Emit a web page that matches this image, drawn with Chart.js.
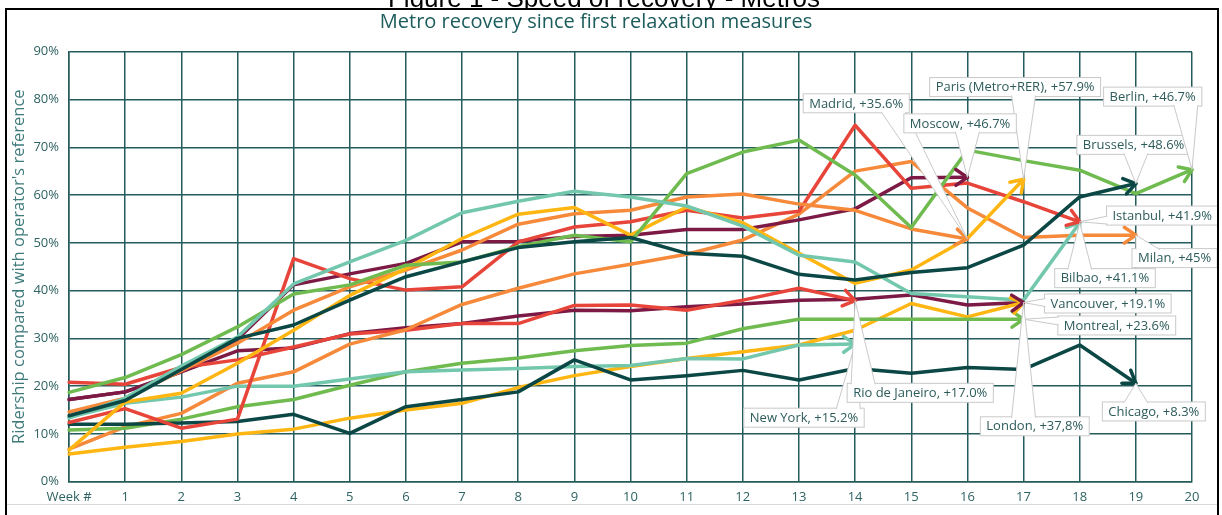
<!DOCTYPE html>
<html>
<head>
<meta charset="utf-8">
<script src="https://cdn.jsdelivr.net/npm/chart.js@4.4.1/dist/chart.umd.min.js"></script>
<style>
  html, body { margin: 0; padding: 0; background: #fff; }
  #wrap { position: relative; width: 1222px; height: 515px; }
</style>
</head>
<body>
<div id="wrap"><canvas id="chartMetro" width="1222" height="515"></canvas></div>
<script>
// week labels (x axis)
var weeks = ["Week #", "1", "2", "3", "4", "5", "6", "7", "8", "9", "10",
             "11", "12", "13", "14", "15", "16", "17", "18", "19", "20"];

// ridership vs operator's reference, % (index = week)
var brussels  = [13.8, 17.0, 23.5, 30.0, 32.8, 38.0, 42.9, 46.0, 49.0, 50.2, 51.1, 47.8, 47.2, 43.4, 42.2, 43.8, 44.8, 49.5, 59.6, 62.4];
var bilbao    = [13.3, 17.5, 24.2, 30.3, 41.4, 46.0, 50.5, 56.3, 58.7, 60.8, 59.6, 57.7, 53.5, 47.4, 46.0, 39.4, 38.7, 38.0, 54.2];
var berlin    = [18.7, 21.8, 26.6, 32.4, 39.3, 41.2, 45.3, 46.0, 49.2, 51.6, 50.2, 64.5, 69.0, 71.5, 64.2, 53.2, 69.4, 67.2, 65.2, 60.3, 65.3];
var paris     = [6.6, 16.7, 18.5, 24.8, 31.7, 39.0, 44.6, 50.9, 56.0, 57.4, 51.6, 57.5, 54.2, 47.8, 41.5, 44.3, 50.9, 63.3];
var madrid    = [14.6, 17.5, 23.2, 29.0, 35.9, 40.8, 44.3, 48.5, 53.9, 56.1, 56.8, 59.6, 60.2, 58.1, 56.8, 52.9, 50.8];
var istanbul  = [12.4, 15.3, 11.2, 13.1, 46.7, 42.5, 40.1, 40.8, 50.2, 53.3, 54.4, 56.8, 55.2, 56.6, 74.6, 61.4, 62.5, 58.6, 54.4];
var moscow    = [17.2, 18.8, 23.0, 29.8, 41.2, 43.5, 45.7, 50.2, 50.3, 51.3, 51.6, 52.8, 52.8, 54.8, 57.1, 63.6, 63.7];
var chicago   = [12.0, 12.0, 12.3, 12.6, 14.1, 10.1, 15.7, 17.2, 18.8, 25.5, 21.3, 22.2, 23.3, 21.3, 23.7, 22.7, 23.9, 23.5, 28.6, 20.6];
var newYork   = [13.5, 16.4, 17.7, 20.0, 20.0, 21.5, 23.0, 23.4, 23.7, 24.1, 24.3, 25.8, 25.7, 28.6, 28.8];
var montreal  = [10.8, 11.2, 13.1, 15.7, 17.2, 20.2, 23.0, 24.8, 25.9, 27.4, 28.5, 29.0, 32.0, 34.0, 34.0, 34.0, 34.0, 34.0];
var london    = [5.8, 7.2, 8.4, 10.0, 11.0, 13.3, 15.0, 16.4, 19.7, 22.2, 24.1, 25.8, 27.2, 28.6, 31.7, 37.3, 34.5, 37.5];
var milan     = [6.8, 11.5, 14.3, 20.6, 23.0, 28.8, 31.8, 37.1, 40.5, 43.5, 45.5, 47.6, 50.6, 56.0, 65.0, 67.0, 57.3, 51.1, 51.6, 51.6];
var rio       = [20.8, 20.4, 23.9, 25.5, 28.2, 30.9, 31.7, 33.1, 33.1, 36.9, 37.0, 35.9, 38.0, 40.5, 37.9];
var vancouver = [17.2, 18.8, 23.0, 27.4, 28.0, 31.0, 32.2, 33.1, 34.7, 35.9, 35.8, 36.6, 37.2, 38.0, 38.2, 39.1, 37.0, 37.5];

var cityNames = ["Brussels", "Bilbao", "Berlin", "Paris (Metro+RER)", "Madrid", "Istanbul", "Moscow",
                 "Chicago", "New York", "Montreal", "London", "Milan", "Rio de Janeiro", "Vancouver"];
var cityValues = [brussels, bilbao, berlin, paris, madrid, istanbul, moscow,
                  chicago, newYork, montreal, london, milan, rio, vancouver];
var calloutTexts = ["Brussels, +48.6%", "Bilbao, +41.1%", "Berlin, +46.7%", "Paris (Metro+RER), +57.9%",
                    "Madrid, +35.6%", "Istanbul, +41.9%", "Moscow, +46.7%", "Chicago, +8.3%",
                    "New York, +15.2%", "Montreal, +23.6%", "London, +37,8%", "Milan, +45%",
                    "Rio de Janeiro, +17.0%", "Vancouver, +19.1%"];

// excel-like palette, cycles every 7 series
var palette = ["#0b4745", "#72c7ad", "#6fbb4f", "#ffb612", "#f6893a", "#e8453a", "#7c1944"];

// where each callout box sits, in axis units (week, %)
var calloutPos = [
    [18.96, 70.5], [18.45, 42.6], [19.30, 80.6], [16.85, 82.6], [14.02, 79.2], [19.47, 55.7], [15.87, 75.0],
    [19.32, 14.7], [13.09, 13.4], [18.66, 32.7], [17.20, 11.6], [19.69, 46.8], [15.16, 18.6], [18.50, 37.3]
];

var teal = "#2f6262";
var fontFamily = "'Open Sans', 'Noto Sans', sans-serif";
Chart.defaults.font.family = fontFamily;

var datasets = cityValues.map(function (vals, i) {
    return {
        label: cityNames[i],
        data: vals,
        borderColor: palette[i % palette.length],
        backgroundColor: palette[i % palette.length],
        borderWidth: 3.5,
        pointRadius: 0,
        tension: 0,
        fill: false,
        borderJoinStyle: "round",
        borderCapStyle: "round",
    };
});

function clamp(v, lo, hi) {
    return Math.max(lo, Math.min(hi, v));
}

var extrasPlugin = {
    id: "extras",
    afterDatasetsDraw: function (chart) {
        var ctx = chart.ctx;
        var xs = chart.scales.x;
        var ys = chart.scales.y;

        // arrow heads at the end of every series
        chart.data.datasets.forEach(function (ds, i) {
            var meta = chart.getDatasetMeta(i);
            var n = ds.data.length;
            var p1 = meta.data[n - 1];
            var p0 = meta.data[n - 2];
            var a = Math.atan2(p1.y - p0.y, p1.x - p0.x);
            var len = 14, spread = 0.6;
            ctx.save();
            ctx.strokeStyle = ds.borderColor;
            ctx.lineWidth = ds.borderWidth;
            ctx.lineCap = "round";
            ctx.lineJoin = "round";
            ctx.beginPath();
            ctx.moveTo(p1.x - len * Math.cos(a - spread), p1.y - len * Math.sin(a - spread));
            ctx.lineTo(p1.x, p1.y);
            ctx.lineTo(p1.x - len * Math.cos(a + spread), p1.y - len * Math.sin(a + spread));
            ctx.stroke();
            ctx.restore();
        });

        // data callouts
        ctx.save();
        ctx.font = "13px " + fontFamily;
        chart.data.datasets.forEach(function (ds, i) {
            var meta = chart.getDatasetMeta(i);
            var tip = meta.data[ds.data.length - 1];
            var text = calloutTexts[i];
            var cx = xs.getPixelForValue(calloutPos[i][0]);
            var cy = ys.getPixelForValue(calloutPos[i][1]);
            var w = ctx.measureText(text).width + 12;
            var h = 19;
            var box = { l: cx - w / 2, r: cx + w / 2, t: cy - h / 2, b: cy + h / 2 };

            ctx.fillStyle = "#ffffff";
            ctx.strokeStyle = "#c9c9c9";
            ctx.lineWidth = 1;
            ctx.fillRect(box.l, box.t, w, h);
            ctx.strokeRect(box.l, box.t, w, h);

            var b1, b2, hw = 12;
            if (tip.y < box.t - 3 || tip.y > box.b + 3) {
                var ey = tip.y < box.t ? box.t + 1 : box.b - 1;
                var bx = clamp(tip.x, box.l + hw + 4, box.r - hw - 4);
                b1 = { x: bx - hw, y: ey };
                b2 = { x: bx + hw, y: ey };
            } else {
                var ex = tip.x < box.l ? box.l + 1 : box.r - 1;
                var by = clamp(tip.y, box.t + 5, box.b - 5);
                b1 = { x: ex, y: by - 4 };
                b2 = { x: ex, y: by + 4 };
            }
            ctx.beginPath();
            ctx.moveTo(b1.x, b1.y);
            ctx.lineTo(tip.x, tip.y);
            ctx.lineTo(b2.x, b2.y);
            ctx.closePath();
            ctx.fill();
            ctx.beginPath();
            ctx.moveTo(b1.x, b1.y);
            ctx.lineTo(tip.x, tip.y);
            ctx.lineTo(b2.x, b2.y);
            ctx.stroke();

            ctx.fillStyle = "#2d5b5b";
            ctx.textAlign = "center";
            ctx.textBaseline = "middle";
            ctx.fillText(text, cx, cy + 0.5);
        });
        ctx.restore();
    },
    afterDraw: function (chart) {
        var ctx = chart.ctx;
        ctx.save();
        // figure title, cut by the top of the page and by the frame
        ctx.save();
        ctx.beginPath();
        ctx.rect(0, 0, 1222, 8);
        ctx.clip();
        ctx.fillStyle = "#000000";
        ctx.font = "26px 'Liberation Sans', Arial, sans-serif";
        ctx.textAlign = "center";
        ctx.textBaseline = "alphabetic";
        ctx.fillText("Figure 1 - Speed of recovery - Metros", 604, 7);
        ctx.restore();
        // frame of the figure
        ctx.strokeStyle = "#000000";
        ctx.lineWidth = 2;
        ctx.beginPath();
        ctx.moveTo(6, 520);
        ctx.lineTo(6, 9);
        ctx.lineTo(1218, 9);
        ctx.lineTo(1218, 520);
        ctx.stroke();
        ctx.strokeStyle = "#d9d9d9";
        ctx.lineWidth = 1;
        ctx.beginPath();
        ctx.moveTo(7, 504.5);
        ctx.lineTo(1217, 504.5);
        ctx.stroke();
        ctx.restore();
    }
};

var ctx = document.getElementById("chartMetro").getContext("2d");
var metroChart = new Chart(ctx, {
    type: "line",
    data: {
        labels: weeks,
        datasets: datasets,
    },
    options: {
        responsive: false,
        animation: false,
        layout: {
            padding: { left: 0, right: 30, top: 0, bottom: 0 },
        },
        plugins: {
            legend: { display: false },
            tooltip: { enabled: false },
            title: {
                display: true,
                text: "Metro recovery since first relaxation measures",
                color: "#1d5c5c",
                font: { size: 20, weight: "normal", lineHeight: 1.2 },
                padding: { top: 10.5, bottom: 17.2 },
            },
        },
        scales: {
            x: {
                type: "category",
                offset: false,
                grid: { color: "#245b5b", lineWidth: 1.5, drawTicks: false },
                border: { color: "#245b5b", width: 1.5 },
                ticks: {
                    color: teal,
                    font: { size: 13 },
                    padding: 8,
                    maxRotation: 0,
                    autoSkip: false,
                },
                afterFit: function (scale) {
                    scale.height = 33.3;
                },
            },
            y: {
                min: 0,
                max: 90,
                grid: { color: "#245b5b", lineWidth: 1.5, drawTicks: false },
                border: { color: "#245b5b", width: 1.5 },
                ticks: {
                    stepSize: 10,
                    color: teal,
                    font: { size: 13 },
                    padding: 10,
                    callback: function (v) {
                        return v + "%";
                    },
                },
                title: {
                    display: true,
                    text: "Ridership compared with operator's reference",
                    color: "#3f7a7a",
                    font: { size: 16.5 },
                    padding: { top: 9, bottom: 0 },
                },
                afterFit: function (scale) {
                    scale.width = 69;
                },
            },
        },
    },
    plugins: [extrasPlugin],
});
</script>
</body>
</html>
